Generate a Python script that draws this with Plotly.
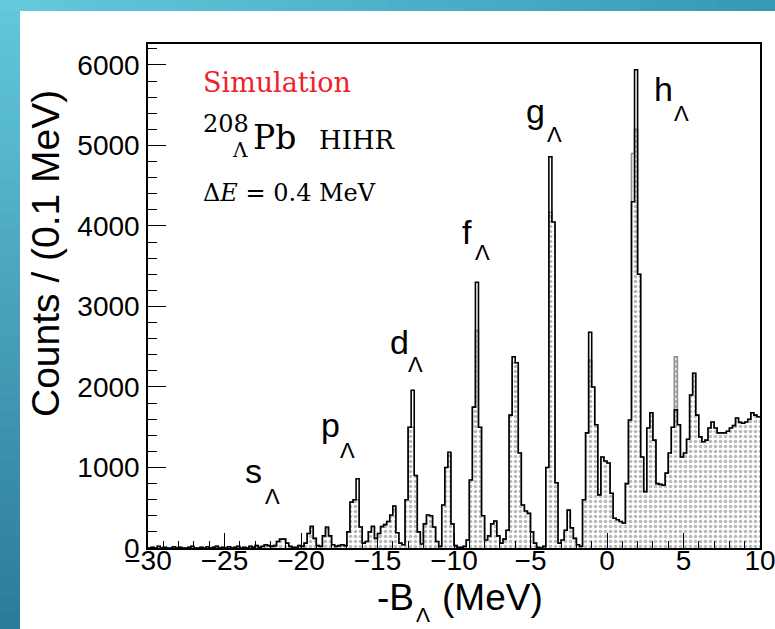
import numpy as np
import plotly.graph_objects as go

# ---------------- data (counts per 0.2 MeV bin, left edges from -30 to 9.8) ----------------
bin_lo, bin_hi, bin_w = -30.0, 10.0, 0.2

total_counts = [
    # -30 .. -28
    0, 10, 0, 20, 0, 10, 0, 0, 15, 0,
    # -28 .. -26
    10, 0, 0, 10, 20, 0, 0, 10, 0, 15,
    # -26 .. -24
    0, 10, 20, 0, 10, 0, 15, 0, 10, 20,
    # -24 .. -22
    0, 10, 0, 20, 10, 30, 10, 20, 40, 30,
    # -22 .. -20
    20, 30, 80, 110, 110, 60, 20, 10, 10, 30,
    # -20 .. -18
    20, 60, 180, 270, 120, 30, 20, 150, 260, 150,
    # -18 .. -16
    40, 20, 30, 40, 30, 200, 570, 600, 860, 260,
    # -16 .. -14
    60, 80, 200, 270, 120, 180, 265, 290, 330, 410,
    # -14 .. -12
    520, 190, 60, 40, 600, 1500, 1960, 900, 200, 50,
    # -12 .. -10
    300, 410, 400, 260, 80, 20, 535, 1000, 1190, 300,
    # -10 .. -8
    30, 10, 10, 20, 100, 845, 1750, 3300, 1500, 400,
    # -8 .. -6
    100, 150, 300, 335, 150, 60, 110, 220, 1650, 2375,
    # -6 .. -4
    2300, 1180, 535, 460, 430, 200, 60, 10, 0, 20,
    # -4 .. -2
    1000, 4860, 4050, 810, 60, 100, 220, 470, 250, 120,
    # -2 .. 0
    40, 20, 600, 1430, 2680, 2000, 1530, 660, 1130, 1080,
    # 0 .. 2
    1055, 680, 370, 350, 330, 310, 800, 1590, 4300, 5940,
    # 2 .. 4
    3400, 1130, 700, 1490, 1680, 1340, 800, 790, 780, 930,
    # 4 .. 6
    1180, 1500, 1715, 1530, 1130, 1180, 1350, 1900, 2170, 1650,
    # 6 .. 8
    1380, 1320, 1340, 1490, 1565, 1490, 1430, 1430, 1430, 1450,
    # 8 .. 10
    1490, 1520, 1615, 1560, 1550, 1565, 1600, 1680, 1650, 1630,
]

hatched_counts = [
    # -30 .. -28
    0, 10, 0, 20, 0, 10, 0, 0, 15, 0,
    # -28 .. -26
    10, 0, 0, 10, 20, 0, 0, 10, 0, 15,
    # -26 .. -24
    0, 10, 20, 0, 10, 0, 15, 0, 10, 20,
    # -24 .. -22
    0, 10, 0, 20, 10, 30, 10, 20, 40, 30,
    # -22 .. -20
    20, 30, 80, 110, 110, 60, 20, 10, 10, 30,
    # -20 .. -18
    20, 60, 180, 250, 120, 30, 20, 150, 240, 150,
    # -18 .. -16
    40, 20, 30, 40, 30, 200, 570, 600, 600, 260,
    # -16 .. -14
    60, 80, 200, 260, 120, 180, 265, 290, 330, 400,
    # -14 .. -12
    480, 190, 60, 40, 600, 1500, 1500, 900, 200, 50,
    # -12 .. -10
    300, 410, 400, 260, 80, 20, 535, 1000, 1150, 300,
    # -10 .. -8
    30, 10, 10, 20, 100, 845, 1750, 2700, 1500, 400,
    # -8 .. -6
    100, 150, 300, 335, 150, 60, 110, 220, 1650, 2300,
    # -6 .. -4
    2300, 1180, 535, 460, 430, 200, 60, 10, 0, 20,
    # -4 .. -2
    1000, 4170, 4050, 810, 60, 100, 220, 470, 250, 120,
    # -2 .. 0
    40, 20, 600, 1430, 2335, 2000, 1530, 660, 1130, 1080,
    # 0 .. 2
    1055, 680, 370, 350, 330, 310, 800, 1590, 4900, 5200,
    # 2 .. 4
    3400, 1130, 700, 1490, 1680, 1340, 800, 790, 780, 930,
    # 4 .. 6
    1180, 1500, 2375, 1530, 1130, 1180, 1350, 1900, 2170, 1650,
    # 6 .. 8
    1380, 1320, 1340, 1490, 1565, 1490, 1430, 1430, 1430, 1450,
    # 8 .. 10
    1490, 1520, 1615, 1560, 1550, 1565, 1600, 1680, 1650, 1630,
]

x_tick_values = [-30, -25, -20, -15, -10, -5, 0, 5, 10]
y_tick_values = [0, 1000, 2000, 3000, 4000, 5000, 6000]
peak_labels = ["s", "p", "d", "f", "g", "h"]

# ---------------- geometry helpers ----------------
W, H = 775, 629
ML, MR, MT, MB = 148, 15, 44, 81
PW, PH = W - ML - MR, H - MT - MB


def px(xp):
    return (xp - ML) / PW


def py(yp):
    return (H - MB - yp) / PH


edges = np.round(bin_lo + bin_w * np.arange(len(total_counts) + 1), 4)
y_tot = list(total_counts) + [total_counts[-1]]
y_hat = list(hatched_counts) + [hatched_counts[-1]]

fig = go.Figure()
fig.add_trace(go.Scatter(
    x=edges, y=y_hat, mode="lines", line_shape="hv",
    line=dict(color="#909090", width=1.6),
    fill="tozeroy", fillcolor="white",
    fillpattern=dict(shape=".", fgcolor="#767676", bgcolor="white",
                     size=5, solidity=0.42),
    hoverinfo="skip", showlegend=False))
fig.add_trace(go.Scatter(
    x=edges, y=y_tot, mode="lines", line_shape="hv",
    line=dict(color="black", width=1.6),
    hoverinfo="skip", showlegend=False))

# ---------------- background gradient strips ----------------
def lerp(c1, c2, t):
    a = [int(c1[i:i + 2], 16) for i in (1, 3, 5)]
    b = [int(c2[i:i + 2], 16) for i in (1, 3, 5)]
    return "rgb(%d,%d,%d)" % tuple(round(a[k] + (b[k] - a[k]) * t) for k in range(3))


shapes = []
NS = 40
top_h, left_w = 11, 20
for i in range(NS):
    x0 = W * i / NS
    x1 = W * (i + 1) / NS + 1
    shapes.append(dict(type="rect", xref="paper", yref="paper",
                       x0=px(x0), x1=px(x1), y0=py(top_h), y1=py(0),
                       fillcolor=lerp("#64c9dd", "#3899b4", i / (NS - 1)),
                       line=dict(width=0), layer="below"))
for i in range(NS):
    y0 = top_h + (H - top_h) * i / NS
    y1 = top_h + (H - top_h) * (i + 1) / NS + 1
    shapes.append(dict(type="rect", xref="paper", yref="paper",
                       x0=px(0), x1=px(left_w), y0=py(y1), y1=py(y0),
                       fillcolor=lerp("#61c6da", "#2c7b9b", i / (NS - 1)),
                       line=dict(width=0), layer="below"))

# ---------------- text ----------------
SANS = "Liberation Sans"
SERIF = "DejaVu Serif"
NB = "\u00a0"
ann = []


def add_text(text, xl, yc, size, family, color="black", anchor="left"):
    ann.append(dict(text=text, x=px(xl), y=py(yc), xref="paper", yref="paper",
                    xanchor=anchor, yanchor="middle", showarrow=False,
                    font=dict(family=family, size=size, color=color)))


add_text("Simulation", 201, 83, 27, SERIF, color="#f0202c")
add_text("208", 201, 124, 24, SERIF)
add_text("Λ", 230, 150, 20, SERIF)
add_text("Pb", 251, 137, 33, SERIF)
add_text("HIHR", 317, 140, 26, SERIF)
add_text("Δ<i>E</i>" + NB + "=" + NB + "0.4" + NB + "MeV", 201, 193, 24, SERIF)

label_pos = {  # letter left, letter center, lambda left, lambda center (pixels)
    "s": (243, 471, 263, 496),
    "p": (319, 425, 338, 450),
    "d": (388, 342, 406, 364),
    "f": (460, 232, 473, 252),
    "g": (524, 111, 545, 134),
    "h": (652, 89, 672, 114),
}
for lab in peak_labels:
    xl, yc, lx, ly = label_pos[lab]
    add_text(lab, xl, yc, 34, SANS)
    add_text("Λ", lx, ly, 22, SANS)

# axis titles
ann.append(dict(text="Counts / (0.1 MeV)", x=px(46), y=py(254), xref="paper", yref="paper",
                xanchor="center", yanchor="middle", textangle=-90, showarrow=False,
                font=dict(family=SANS, size=39, color="black")))
add_text("-B", 375, 597, 37, SANS)
add_text("Λ", 414, 614, 21, SANS)
add_text("(MeV)", 440, 597, 37, SANS)

fig.update_layout(
    width=W, height=H, autosize=False,
    margin=dict(l=ML, r=MR, t=MT, b=MB, pad=0, autoexpand=False),
    paper_bgcolor="white", plot_bgcolor="white",
    shapes=shapes, annotations=ann, showlegend=False,
    xaxis=dict(range=[bin_lo, bin_hi], tickmode="array", tickvals=x_tick_values,
               ticks="inside", ticklen=15, tickwidth=1, tickcolor="black",
               minor=dict(ticks="inside", ticklen=7, tickwidth=1, dtick=1, tickcolor="black"),
               showline=True, mirror=True, linecolor="black", linewidth=1.5,
               showgrid=False, zeroline=False, ticklabeloverflow="allow", automargin=False,
               tickfont=dict(family=SANS, size=28, color="black"), ticklabelstandoff=-13),
    yaxis=dict(range=[0, 6260], tickmode="array", tickvals=y_tick_values,
               ticks="inside", ticklen=18, tickwidth=1, tickcolor="black",
               minor=dict(ticks="inside", ticklen=9, tickwidth=1, dtick=200, tickcolor="black"),
               showline=True, mirror=True, linecolor="black", linewidth=1.5,
               showgrid=False, zeroline=False, ticklabeloverflow="allow", automargin=False,
               tickfont=dict(family=SANS, size=28, color="black"), ticklabelstandoff=1),
)

fig.write_html("out.html")
